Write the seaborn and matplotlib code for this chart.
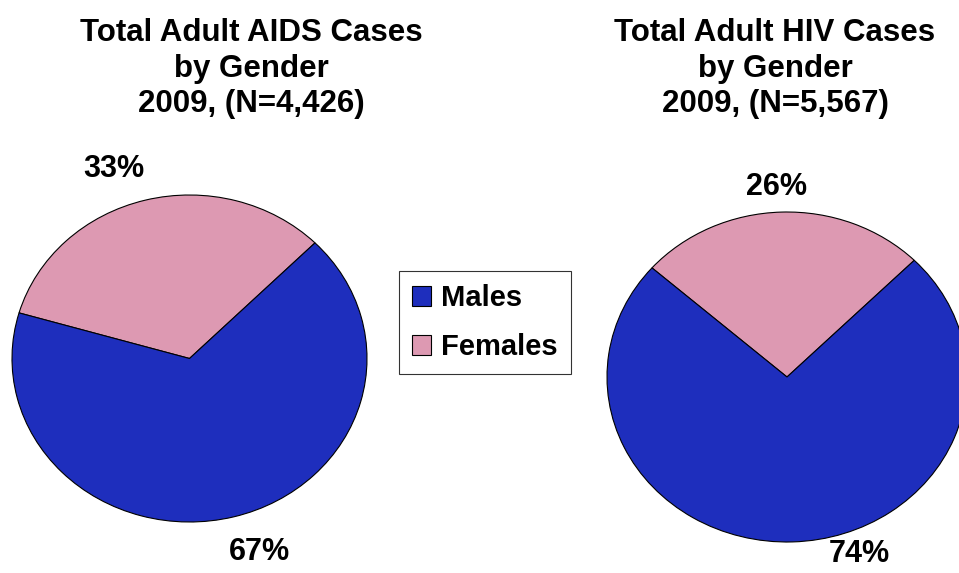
import matplotlib
matplotlib.use('Agg')
import matplotlib.pyplot as plt
import seaborn as sns
from matplotlib.patches import Patch

# ── data ─────────────────────────────────────────────────────────────
GENDERS = ['Males', 'Females']
AIDS_PCT = [67, 33]
HIV_PCT = [74, 26]
AIDS_TITLE = 'Total Adult AIDS Cases\nby Gender\n2009, (N=4,426)'
HIV_TITLE = 'Total Adult HIV Cases\nby Gender\n2009, (N=5,567)'

COLORS = {'Males': '#1E2EBD', 'Females': '#DD99B2'}

W, H = 959, 573


def setup_style():
    sns.set_theme(style='white')
    plt.rcParams.update({
        'font.family': ['Liberation Sans', 'DejaVu Sans'],
        'font.weight': 'bold',
        'text.color': 'black',
        'figure.facecolor': 'white',
    })


def px_axes(fig, left, top, right, bottom):
    """Axes from pixel box (origin top-left)."""
    return fig.add_axes([left / W, 1 - bottom / H, (right - left) / W, (bottom - top) / H])


def draw_pie(ax, values, label_pos):
    # females first, counter-clockwise from 45 deg
    order = [1, 0]
    vals = [values[i] for i in order]
    cols = [COLORS[GENDERS[i]] for i in order]
    ax.pie(vals, colors=cols, startangle=45, counterclock=True,
           wedgeprops=dict(edgecolor='black', linewidth=0.8))
    ax.set_aspect('auto')
    ax.set_xlim(-1, 1)
    ax.set_ylim(-1, 1)
    ax.axis('off')
    for i, (x, y) in zip(order, label_pos):
        ax.text(x, y, f'{values[i]}%', transform=ax.transAxes, ha='center', va='center',
                fontsize=22, fontweight='bold', color='black', clip_on=False)


def main():
    setup_style()
    fig = plt.figure(figsize=(W / 100, H / 100), dpi=100)

    ax1 = px_axes(fig, 12, 195, 367, 522)
    draw_pie(ax1, AIDS_PCT, [(0.286, 1.078), (0.698, -0.092)])

    ax2 = px_axes(fig, 607, 212, 967, 542)
    draw_pie(ax2, HIV_PCT, [(0.472, 1.075), (0.70, -0.035)])

    for xc, title in ((251, AIDS_TITLE), (775, HIV_TITLE)):
        fig.text(xc / W, 1 - 18 / H, title, ha='center', va='top',
                 fontsize=22.5, fontweight='bold', linespacing=1.24)

    handles = [Patch(facecolor=COLORS[g], edgecolor='black', linewidth=0.8) for g in GENDERS]
    leg = fig.legend(handles, GENDERS, loc='upper left',
                     bbox_to_anchor=(399 / W, 1 - 271 / H),
                     prop=dict(weight='bold', size=21), frameon=True, fancybox=False,
                     handlelength=0.65, handleheight=0.65, handletextpad=0.35,
                     labelspacing=0.72, borderpad=0.45, borderaxespad=0)
    leg.get_frame().set_edgecolor('black')
    leg.get_frame().set_linewidth(0.8)

    fig.savefig('out.png', dpi=100)
    plt.close(fig)


if __name__ == '__main__':
    main()
